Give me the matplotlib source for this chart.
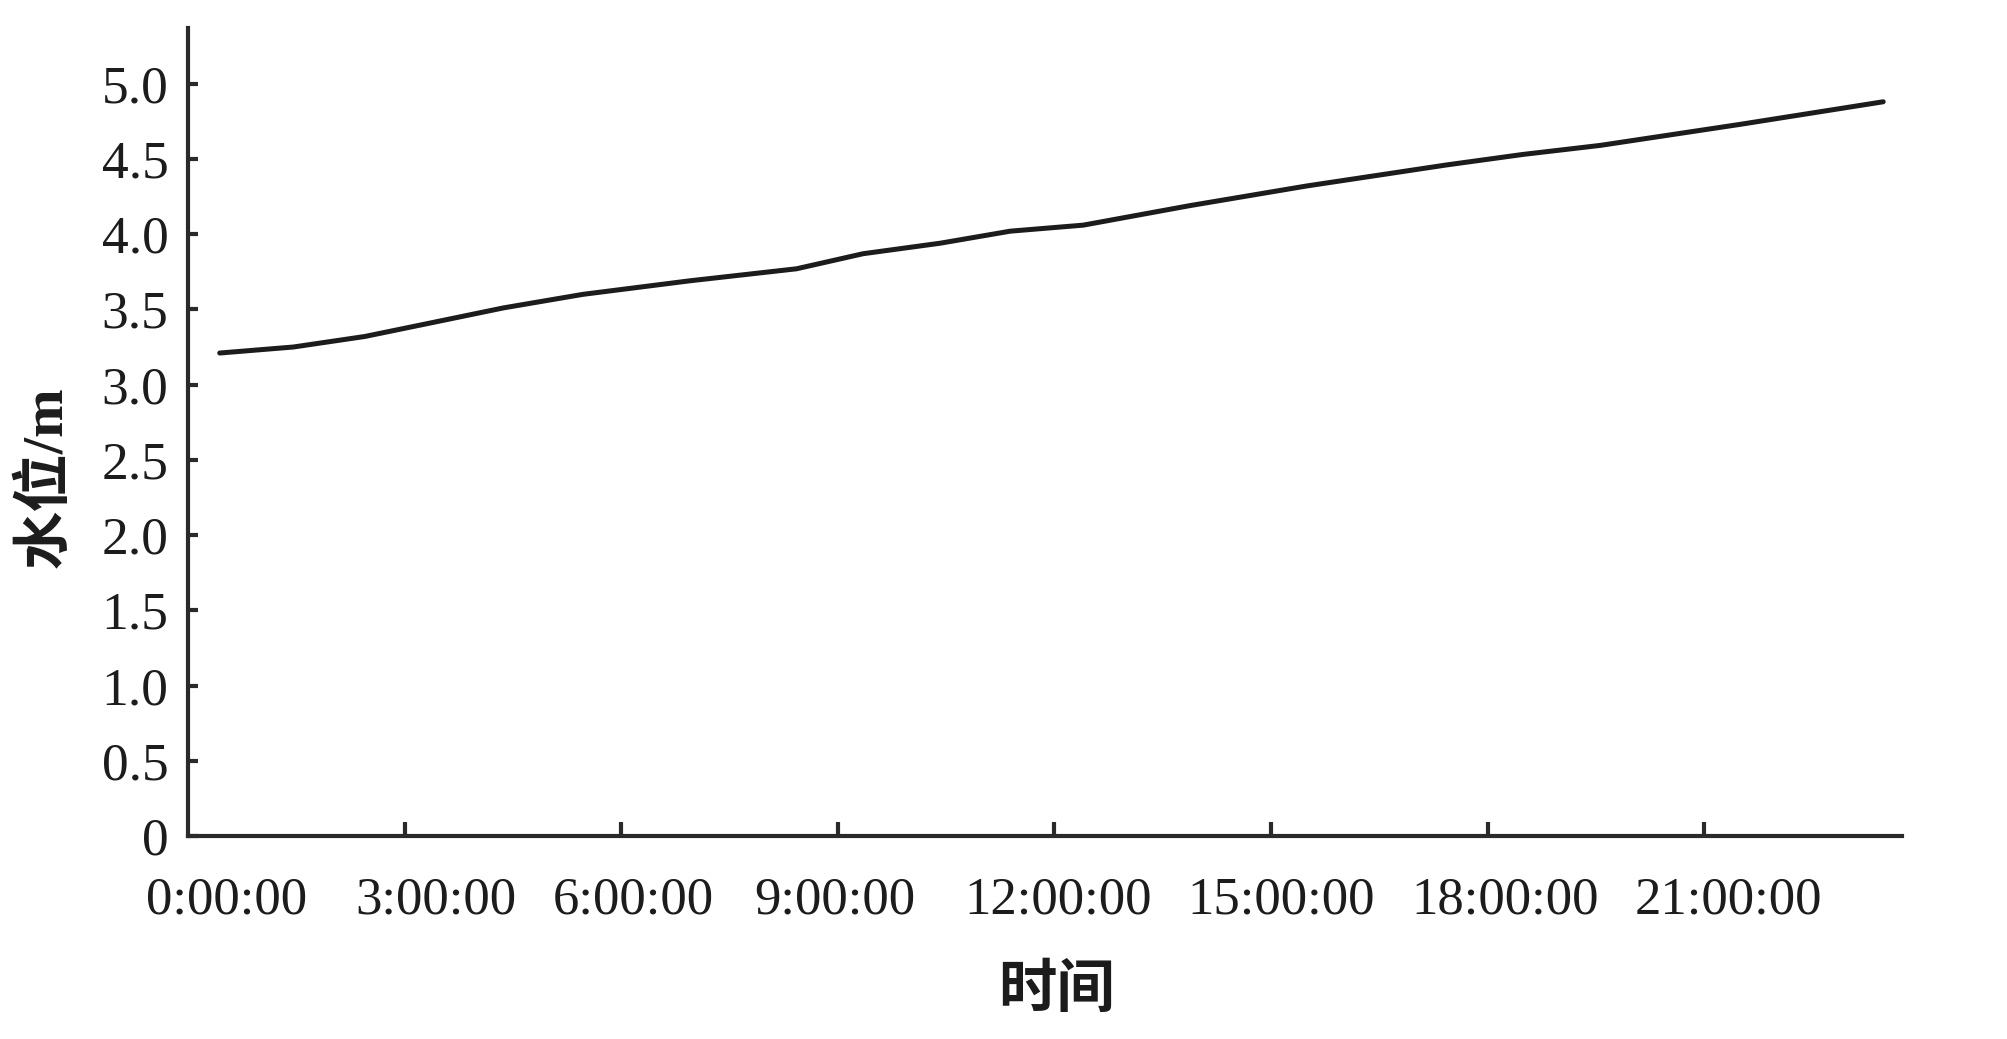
import matplotlib
matplotlib.use("Agg")
import matplotlib.pyplot as plt

# water level readings (hours since 0:00, metres)
hours = [0.44, 1.46, 2.45, 3.26, 4.37, 5.47, 6.95, 8.43, 9.35, 10.42,
         11.39, 12.4, 13.88, 15.49, 17.43, 18.49, 19.56, 21.5, 23.48]
level = [3.21, 3.25, 3.32, 3.40, 3.51, 3.60, 3.69, 3.77, 3.87, 3.94,
         4.02, 4.06, 4.19, 4.32, 4.46, 4.53, 4.59, 4.73, 4.88]

tick_hours = [3, 6, 9, 12, 15, 18, 21]
label_hours = [0.54, 3.43, 6.17, 8.96, 12.05, 15.14, 18.25, 21.34]
time_labels = ["0:00:00", "3:00:00", "6:00:00", "9:00:00",
               "12:00:00", "15:00:00", "18:00:00", "21:00:00"]
y_ticks = [0, 0.5, 1.0, 1.5, 2.0, 2.5, 3.0, 3.5, 4.0, 4.5, 5.0]
y_labels = ["0", "0.5", "1.0", "1.5", "2.0", "2.5", "3.0", "3.5", "4.0", "4.5", "5.0"]

serif = ["Liberation Serif", "Noto Sans CJK SC"]
plt.rcParams["font.family"] = serif
ink = "#1c1c1c"

fig = plt.figure(figsize=(20.08, 10.39), dpi=100)
ax = fig.add_axes([0.0936, 0.1954, 0.8536, 0.7776])

ax.plot(hours, level, color=ink, lw=3.6, solid_capstyle="round")

ax.set_xlim(0, 23.74)
ax.set_ylim(0, 5.37)

for side in ("top", "right"):
    ax.spines[side].set_visible(False)
for side in ("left", "bottom"):
    ax.spines[side].set_linewidth(3.0)
    ax.spines[side].set_color("#2a2a2a")

ax.set_xticks(tick_hours)
ax.set_xticklabels([])
ax.set_xticks(label_hours, minor=True)
ax.set_xticklabels(time_labels, minor=True)
ax.tick_params(axis="x", which="major", direction="in", length=10, width=3.0, color="#2a2a2a")
ax.tick_params(axis="x", which="minor", length=0, pad=29, labelsize=38, labelcolor=ink)

ax.set_yticks(y_ticks)
ax.set_yticklabels(y_labels)
ax.tick_params(axis="y", direction="in", length=7, width=3.0, color="#2a2a2a",
               pad=14, labelsize=38.5, labelcolor=ink)

ax.set_ylabel("水位/m", fontsize=42, color=ink, fontweight="bold", va="center")
ax.yaxis.set_label_coords(-0.083, 0.444)
ax.set_xlabel("时间", fontsize=42, color=ink, fontweight="bold", va="center")
ax.xaxis.set_label_coords(0.507, -0.193)

fig.savefig("out.png", dpi=100)
